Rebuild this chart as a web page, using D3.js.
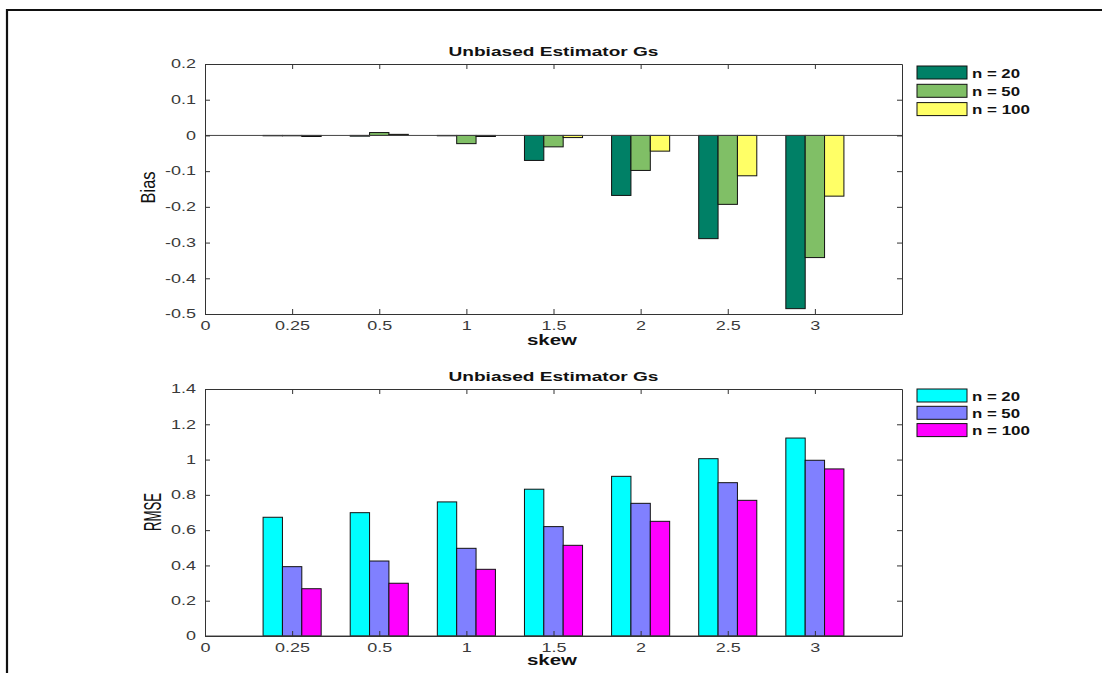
<!DOCTYPE html>
<html>
<head>
<meta charset="utf-8">
<script src="https://cdn.jsdelivr.net/npm/d3@7"></script>
<style>
  body { margin: 0; background: #fff; }
  svg { display: block; }
  text { font-family: Arial, "Liberation Sans", sans-serif; }
</style>
</head>
<body>
<svg id="chart" width="1102" height="673"></svg>
<script>
// Skew levels (one bar group per level) and the x tick labels (tick 0 is empty space)
const skewLevels = ["0.25", "0.5", "1", "1.5", "2", "2.5", "3"];
const xTickLabels = ["0", "0.25", "0.5", "1", "1.5", "2", "2.5", "3"];
const seriesNames = ["n = 20", "n = 50", "n = 100"];

// Bias of the unbiased estimator Gs
const bias20  = [-0.001, -0.002, -0.001, -0.070, -0.168, -0.289, -0.485];
const bias50  = [-0.001,  0.008, -0.023, -0.032, -0.098, -0.193, -0.342];
const bias100 = [-0.003,  0.003, -0.003, -0.006, -0.044, -0.113, -0.170];

// RMSE of the unbiased estimator Gs
const rmse20  = [0.673, 0.699, 0.760, 0.832, 0.905, 1.005, 1.122];
const rmse50  = [0.393, 0.425, 0.497, 0.620, 0.752, 0.869, 0.996];
const rmse100 = [0.268, 0.299, 0.378, 0.514, 0.650, 0.769, 0.947];

const biasTicks = [0.2, 0.1, 0, -0.1, -0.2, -0.3, -0.4, -0.5];
const rmseTicks = [0, 0.2, 0.4, 0.6, 0.8, 1, 1.2, 1.4];

const biasColors = ["#008066", "#80bf66", "#ffff66"];
const rmseColors = ["#00ffff", "#8080ff", "#ff00ff"];

const svg = d3.select("#chart");

// figure frame
svg.append("path")
  .attr("d", "M7,673V10H1102")
  .attr("fill", "none")
  .attr("stroke", "#111")
  .attr("stroke-width", 2.2);

// widen text horizontally around its anchor point
function widen(sel, sx) {
  sel.each(function () {
    const t = d3.select(this);
    const x = +t.attr("x") || 0, y = +t.attr("y") || 0;
    t.attr("x", 0).attr("y", 0).attr("transform", `translate(${x},${y}) scale(${sx},1)`);
  });
}

function panel(cfg) {
  const left = 205, right = 902;
  const x = d3.scaleLinear().domain([0, 8]).range([left, right]);
  const y = d3.scaleLinear().domain(cfg.yDomain).range([cfg.bottom, cfg.top]);
  const g = svg.append("g");
  const bw = 2 / 9; // width of one bar within a group of three

  // bars
  cfg.series.forEach((vals, j) => {
    g.append("g").selectAll("rect").data(vals).join("rect")
      .attr("x", (d, i) => x(i + 1 + (j - 1) * bw - bw / 2))
      .attr("width", x(bw) - x(0))
      .attr("y", d => y(Math.max(d, 0)))
      .attr("height", d => Math.abs(y(d) - y(0)))
      .attr("fill", cfg.colors[j])
      .attr("stroke", "#111")
      .attr("stroke-width", 1);
  });

  // baseline
  g.append("line")
    .attr("x1", x(0)).attr("x2", x(8))
    .attr("y1", y(0)).attr("y2", y(0))
    .attr("stroke", "#444").attr("stroke-width", 1);

  const fmt = d => d3.format("")(+d.toFixed(2)).replace("−", "-");

  const axL = g.append("g").attr("transform", `translate(${left},0)`)
    .call(d3.axisLeft(y).tickValues(cfg.yTicks).tickSize(-5).tickSizeOuter(0).tickPadding(9).tickFormat(fmt));
  const axB = g.append("g").attr("transform", `translate(0,${cfg.bottom})`)
    .call(d3.axisBottom(x).tickValues(d3.range(8)).tickSize(-5).tickSizeOuter(0).tickPadding(7).tickFormat(i => xTickLabels[i]));
  const axT = g.append("g").attr("transform", `translate(0,${cfg.top})`)
    .call(d3.axisTop(x).tickValues(d3.range(8)).tickSize(-5).tickSizeOuter(0).tickFormat(""));
  const axR = g.append("g").attr("transform", `translate(${right},0)`)
    .call(d3.axisRight(y).tickValues(cfg.yTicks).tickSize(-5).tickSizeOuter(0).tickFormat(""));

  [axL, axB, axT, axR].forEach(a => {
    a.selectAll("path.domain").attr("stroke", "#333");
    a.selectAll("line").attr("stroke", "#333");
    a.selectAll("text").attr("font-size", 12).attr("fill", "#3a3a3a").attr("font-family", "Arial, 'Liberation Sans', sans-serif");
  });
  widen(axL.selectAll("text"), 1.5);
  widen(axB.selectAll("text"), 1.5);

  // title
  g.append("text")
    .attr("x", (left + right) / 2).attr("y", cfg.titleY)
    .attr("text-anchor", "middle")
    .attr("font-size", 12.5).attr("font-weight", "bold").attr("fill", "#111")
    .attr("textLength", 210).attr("lengthAdjust", "spacingAndGlyphs")
    .text("Unbiased Estimator Gs");

  // x label
  g.append("text")
    .attr("x", 552).attr("y", cfg.xlabelY)
    .attr("text-anchor", "middle")
    .attr("font-size", 14).attr("font-weight", "bold").attr("fill", "#111")
    .attr("textLength", 50).attr("lengthAdjust", "spacingAndGlyphs")
    .text("skew");

  // y label
  g.append("text")
    .attr("transform", `translate(${cfg.ylabelX},${cfg.ylabelY}) scale(${cfg.ylabelScale},1) rotate(-90)`)
    .attr("text-anchor", "middle").attr("dy", "0.35em")
    .attr("font-size", 15).attr("fill", "#111")
    .attr("textLength", cfg.ylabelLen).attr("lengthAdjust", "spacingAndGlyphs")
    .text(cfg.ylabel);

  // legend
  const lg = g.append("g").selectAll("g").data(seriesNames).join("g")
    .attr("transform", (d, i) => `translate(917,${cfg.legendY + i * cfg.legendStep})`);
  lg.append("rect")
    .attr("width", 50).attr("height", 13)
    .attr("fill", (d, i) => cfg.colors[i])
    .attr("stroke", "#111").attr("stroke-width", 1);
  lg.append("text")
    .attr("x", 55).attr("y", 11.5)
    .attr("font-size", 13).attr("font-weight", "bold").attr("fill", "#111")
    .attr("textLength", d => d.length > 6 ? 58 : 48).attr("lengthAdjust", "spacingAndGlyphs")
    .text(d => d);
}

panel({
  top: 64, bottom: 314, yDomain: [-0.5, 0.2], yTicks: biasTicks,
  series: [bias20, bias50, bias100], colors: biasColors,
  titleY: 56, xlabelY: 345, ylabel: "Bias", ylabelX: 147.5, ylabelY: 187.5, ylabelLen: 32, ylabelScale: 1.4,
  legendY: 66, legendStep: 18.3
});

panel({
  top: 389, bottom: 636, yDomain: [0, 1.4], yTicks: rmseTicks,
  series: [rmse20, rmse50, rmse100], colors: rmseColors,
  titleY: 381, xlabelY: 665, ylabel: "RMSE", ylabelX: 153, ylabelY: 512, ylabelLen: 38, ylabelScale: 1.55,
  legendY: 389, legendStep: 17.3
});
</script>
</body>
</html>
